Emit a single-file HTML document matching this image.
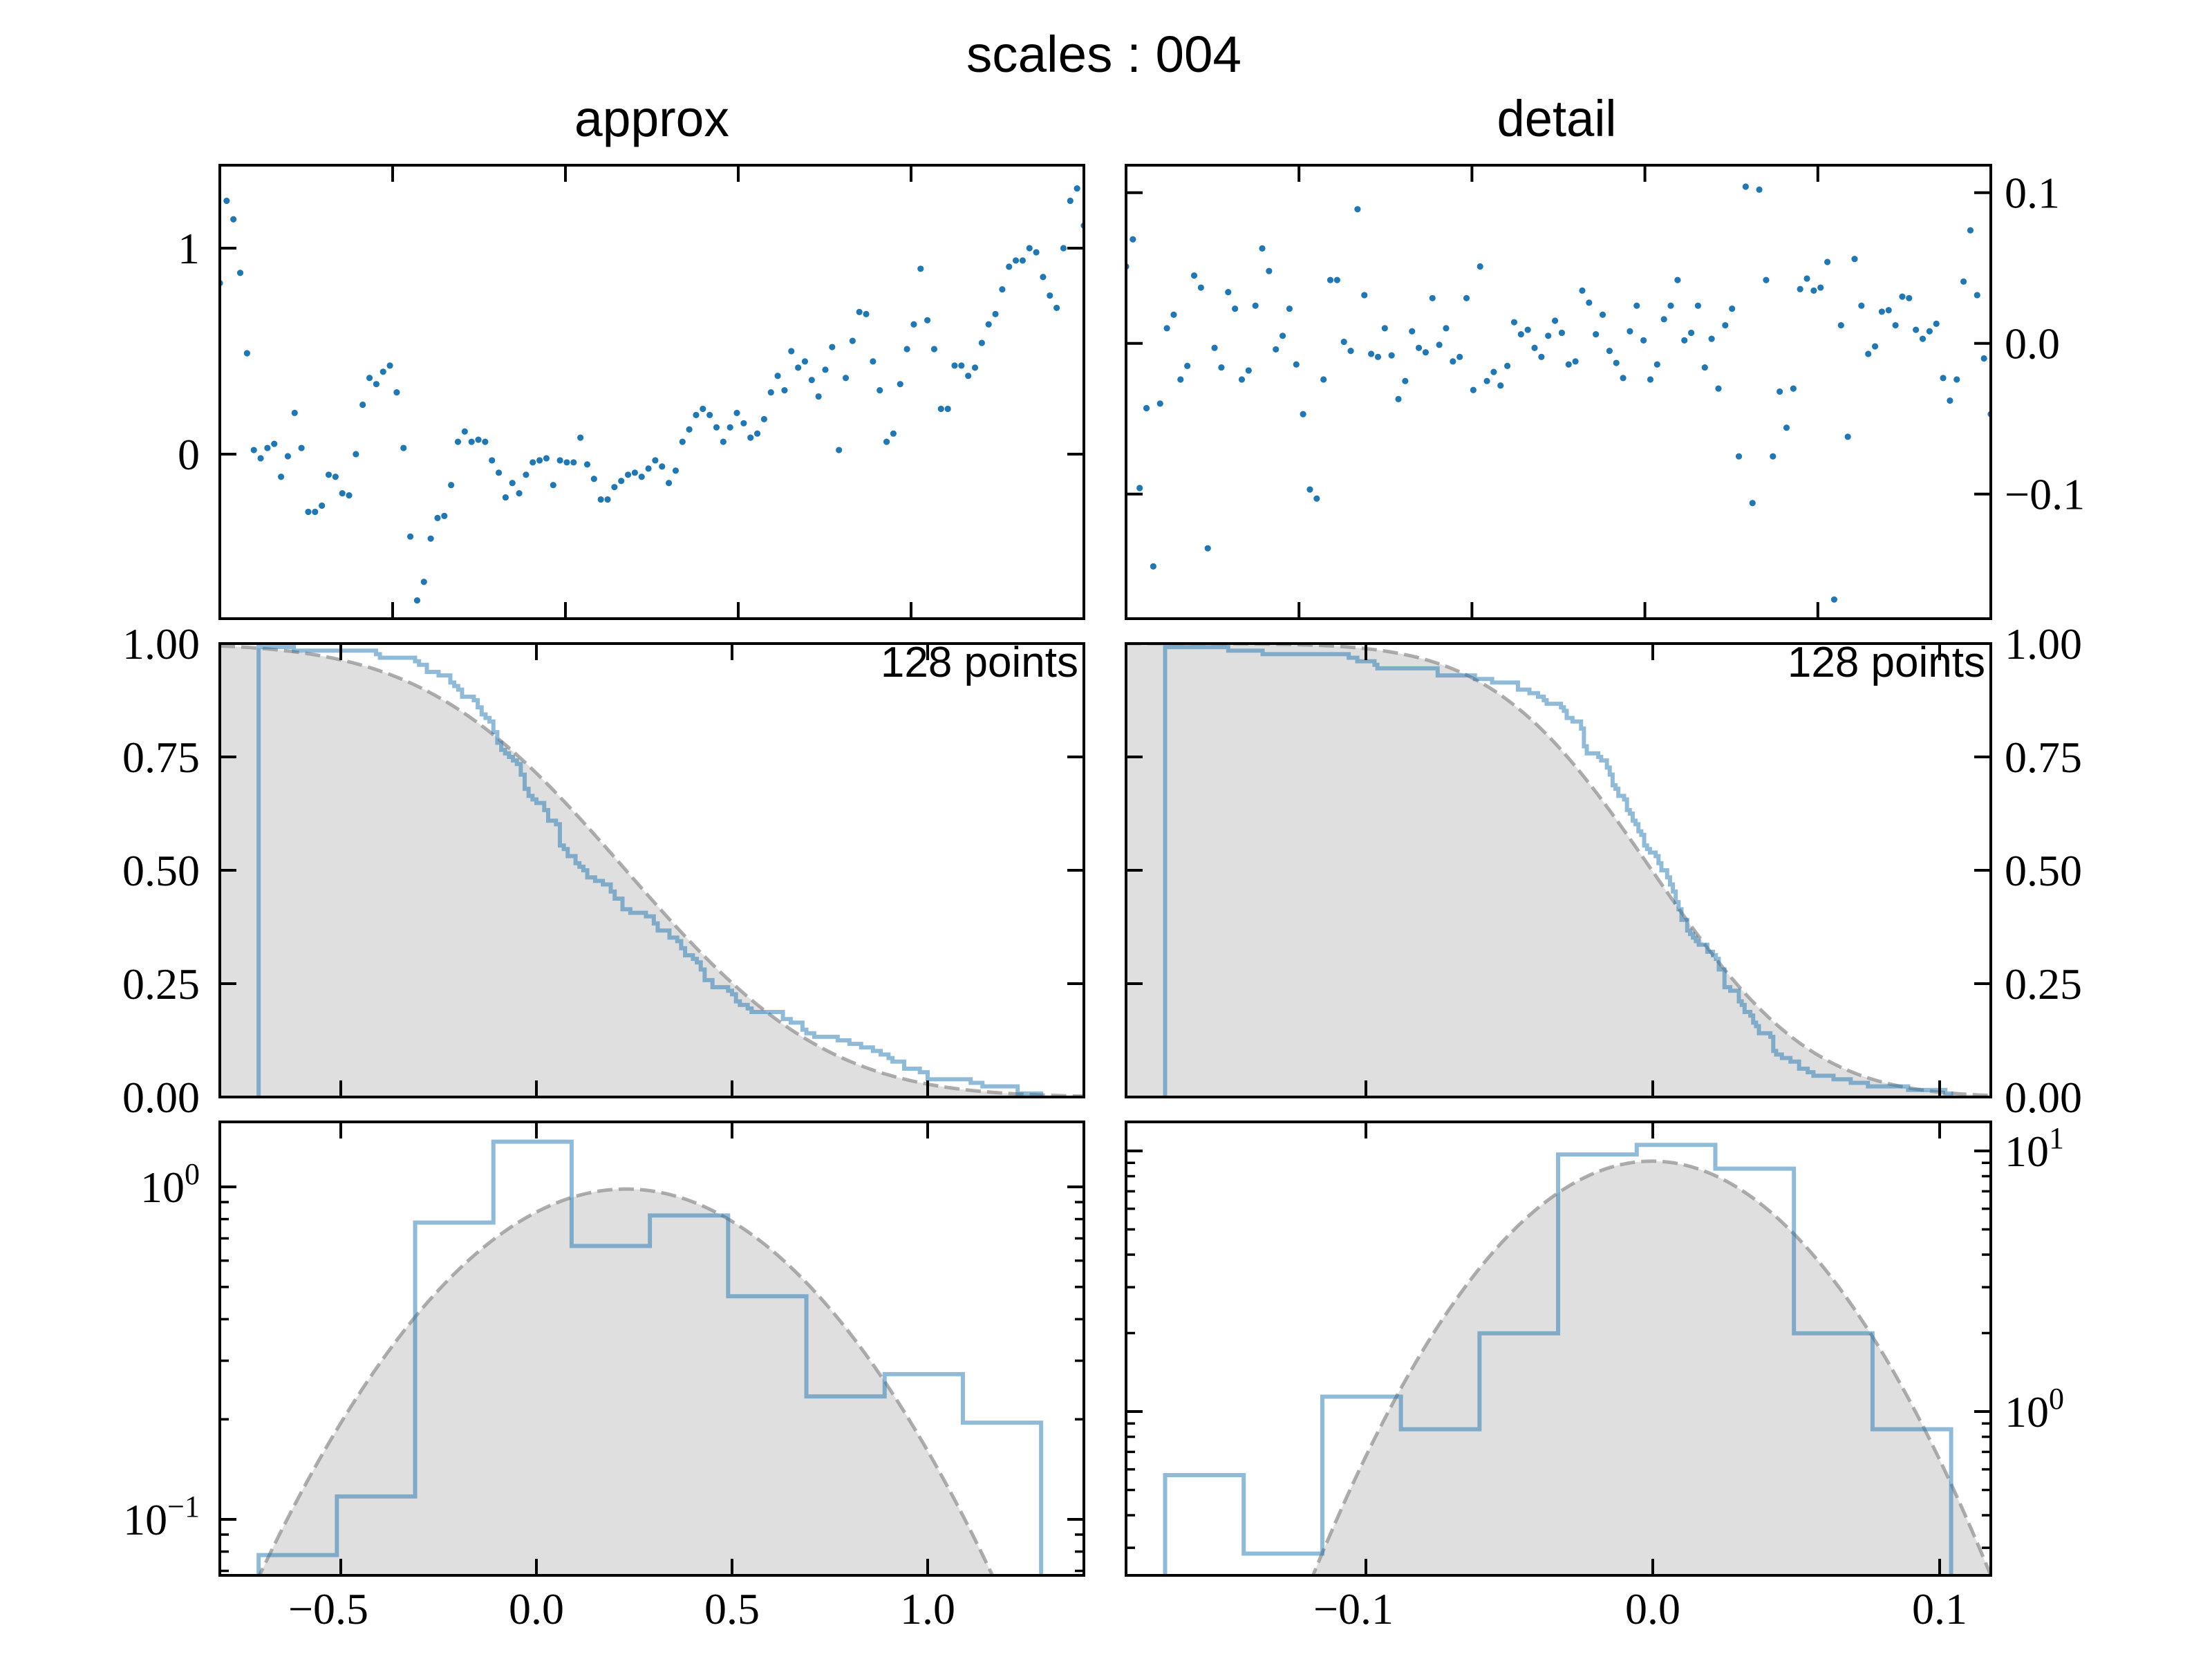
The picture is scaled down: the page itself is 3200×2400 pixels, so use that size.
<!DOCTYPE html>
<html><head><meta charset="utf-8"><style>
html,body{margin:0;padding:0;background:#fff;width:3200px;height:2400px;overflow:hidden}
svg{display:block;overflow:hidden}
.tk{font-family:"Liberation Serif",serif;font-size:64px;fill:#000}
.sans{font-family:"Liberation Sans",sans-serif;fill:#000}
</style></head><body>
<svg id="fig" xmlns="http://www.w3.org/2000/svg" width="3200" height="2400" viewBox="0 0 3200 2400">
<rect width="3200" height="2400" fill="#fff"/>
<text class="sans" x="1597" y="104" font-size="74" text-anchor="middle" textLength="398" lengthAdjust="spacingAndGlyphs">scales : 004</text>
<text class="sans" x="943" y="197" font-size="74" text-anchor="middle" textLength="224" lengthAdjust="spacingAndGlyphs">approx</text>
<text class="sans" x="2252" y="197" font-size="74" text-anchor="middle" textLength="173" lengthAdjust="spacingAndGlyphs">detail</text>
<g id="plots"></g>
</svg>
<script>
// ---------- data ----------
const approxValues = [0.83,1.23,1.14,0.88,0.49,0.02,-0.02,0.03,0.05,-0.11,
-0.01,0.20,0.03,-0.28,-0.28,-0.25,-0.10,-0.11,-0.19,-0.20,
0.00,0.24,0.37,0.34,0.40,0.43,0.30,0.03,-0.40,-0.71,
-0.62,-0.41,-0.31,-0.30,-0.15,0.06,0.11,0.06,0.07,0.06,
-0.03,-0.09,-0.21,-0.14,-0.19,-0.10,-0.04,-0.03,-0.02,-0.15,
-0.03,-0.04,-0.04,0.08,-0.05,-0.12,-0.22,-0.22,-0.16,-0.13,
-0.10,-0.09,-0.11,-0.07,-0.03,-0.06,-0.14,-0.08,0.06,0.12,
0.19,0.22,0.19,0.13,0.06,0.13,0.20,0.15,0.08,0.10,
0.17,0.30,0.38,0.31,0.50,0.42,0.45,0.36,0.28,0.41,
0.52,0.02,0.37,0.55,0.69,0.68,0.45,0.31,0.06,0.10,
0.34,0.51,0.63,0.90,0.65,0.51,0.22,0.22,0.43,0.43,
0.38,0.42,0.54,0.63,0.68,0.80,0.91,0.94,0.94,1.00,
0.98,0.86,0.77,0.71,1.00,1.23,1.29,1.11];
const detailValues = [0.051,0.069,-0.096,-0.043,-0.148,-0.040,0.010,0.019,-0.024,-0.015,
0.045,0.037,-0.136,-0.003,-0.016,0.034,0.023,-0.024,-0.018,0.025,
0.063,0.048,-0.004,0.005,0.023,-0.014,-0.047,-0.097,-0.103,-0.024,
0.042,0.042,0.001,-0.005,0.089,0.032,-0.007,-0.009,0.010,-0.008,
-0.037,-0.025,0.008,-0.003,-0.006,0.030,-0.001,0.010,-0.012,-0.009,
0.030,-0.031,0.051,-0.025,-0.019,-0.028,-0.015,0.014,0.006,0.009,
-0.003,-0.009,0.005,0.015,0.007,-0.014,-0.012,0.035,0.027,0.006,
0.019,-0.005,-0.013,-0.023,0.008,0.025,0.002,-0.024,-0.014,0.016,
0.025,0.042,0.002,0.007,0.025,-0.016,0.003,-0.030,0.012,0.023,
-0.075,0.104,-0.106,0.102,0.042,-0.075,-0.032,-0.056,-0.030,0.036,
0.043,0.035,0.037,0.054,-0.170,0.012,-0.062,0.056,0.025,-0.007,
-0.002,0.021,0.022,0.012,0.031,0.030,0.009,0.003,0.008,0.013,
-0.023,-0.038,-0.024,0.041,0.075,0.032,-0.010,-0.047];
const approxTopTicks = ["1","0"];
const approxTopTickValues = [1,0];
const detailTopTicks = ["0.1","0.0","\u22120.1"];
const detailTopTickValues = [0.1,0,-0.1];
const cdfTicks = ["0.00","0.25","0.50","0.75","1.00"];
const cdfTickValues = [0,0.25,0.5,0.75,1];
const approxXTicks = ["\u22120.5","0.0","0.5","1.0"];
const approxXTickValues = [-0.5,0,0.5,1.0];
const detailXTicks = ["\u22120.1","0.0","0.1"];
const detailXTickValues = [-0.1,0,0.1];
const approxLogMajor = [0,-1];
const detailLogMajor = [1,0];
const nBins = 10;

// ---------- layout ----------
const NS="http://www.w3.org/2000/svg";
const root=document.getElementById('plots');
const COLS=[{x0:318,x1:1568},{x0:1629,x1:2880}];
const ROWS=[{y0:239,y1:895},{y0:931,y1:1587},{y0:1623,y1:2279}];
const lx=v=>776+566*v, rx=v=>2391+4150*v;
const yTopL=v=>657-298*v, yTopR=v=>496.7-2180*v;
const yMid=v=>1587-656*v;
const yLogL=v=>1717-481*Math.log10(v), yLogR=v=>2042-377*Math.log10(v);
const FLOOR=2400;

function mk(tag,attrs,parent){const e=document.createElementNS(NS,tag);for(const k in attrs)e.setAttribute(k,attrs[k]);(parent||root).appendChild(e);return e;}

function erf(x){const s=Math.sign(x);x=Math.abs(x);const t=1/(1+0.3275911*x);
const y=1-(((((1.061405429*t-1.453152027)*t)+1.421413741)*t-0.284496736)*t+0.254829592)*t*Math.exp(-x*x);return s*y;}
function stats(a){const m=a.reduce((s,v)=>s+v,0)/a.length;const sd=Math.sqrt(a.reduce((s,v)=>s+(v-m)*(v-m),0)/a.length);return {m,sd};}

let clipId=0;
function panel(col,row,name){
  const c=COLS[col],r=ROWS[row];
  const g=mk('g',{});
  
  
  const id='clip'+(clipId++);
  const cp=mk('clipPath',{id:id},g);
  mk('rect',{x:c.x0,y:r.y0,width:c.x1-c.x0,height:r.y1-r.y0},cp);
  const inner=mk('g',{'clip-path':'url(#'+id+')'},g);
  return {g,inner,c,r};
}
function frame(p){
  const f=mk('rect',{x:p.c.x0,y:p.r.y0,width:p.c.x1-p.c.x0,height:p.r.y1-p.r.y0,fill:'none',stroke:'#000','stroke-width':4},p.g);
  
  
}
function xTicks(p,xs,len){
  xs.forEach(x=>{
    const t1=mk('line',{x1:x,x2:x,y1:p.r.y1,y2:p.r.y1-len,stroke:'#000','stroke-width':4},p.g);
    
    
    const t2=mk('line',{x1:x,x2:x,y1:p.r.y0,y2:p.r.y0+len,stroke:'#000','stroke-width':4},p.g);
    
    
  });
}
function yTicks(p,ys,len,w){
  ys.forEach(y=>{
    if(y<p.r.y0-1||y>p.r.y1+1)return;
    const t1=mk('line',{x1:p.c.x0,x2:p.c.x0+len,y1:y,y2:y,stroke:'#000','stroke-width':w||4},p.g);
    
    
    const t2=mk('line',{x1:p.c.x1,x2:p.c.x1-len,y1:y,y2:y,stroke:'#000','stroke-width':w||4},p.g);
    
    
  });
}
function yLabels(col,ys,labels){
  ys.forEach((y,i)=>{
    const t=mk('text',{class:'tk',x:col===0?289:2900,y:y+22,'text-anchor':col===0?'end':'start'});
    t.textContent=labels[i];
    
    
  });
}
function logLabel(col,y,exp){
  const t=mk('text',{class:'tk',x:col===0?289:2900,y:y+22,'text-anchor':col===0?'end':'start'});
  
  
  const a=mk('tspan',{},t);a.textContent='10';
  const b=mk('tspan',{dy:-26,'font-size':44},t);b.textContent=exp<0?'\u2212'+(-exp):String(exp);
}

function drawColumn(col,vals,X,yTop,topTickVals,topTickLabels,xTickVals,xTickLabels,yLog,logMajor){
  const st=stats(vals);
  const c=COLS[col];
  const N=vals.length;
  // --- top: scatter
  let p=panel(col,0,col?'detail-scatter-panel':'approx-scatter-panel');
  vals.forEach((v,i)=>{
    const d=mk('circle',{cx:c.x0+i/(N-1)*(c.x1-c.x0),cy:yTop(v),r:4.6,fill:'#1f77b4'},p.inner);
    
    
  });
  frame(p);
  xTicks(p,[0.2,0.4,0.6,0.8].map(f=>c.x0+f*(c.x1-c.x0)),24);
  const tys=topTickVals.map(yTop);
  yTicks(p,tys,24);
  yLabels(col,tys,topTickLabels);

  // --- middle: survival function
  p=panel(col,1,col?'detail-survival-panel':'approx-survival-panel');
  const xmin=X.inv(c.x0), xmax=X.inv(c.x1);
  let pts=[];
  for(let k=0;k<=300;k++){const x=xmin+(xmax-xmin)*k/300;const s=0.5*(1-erf((x-st.m)/(st.sd*Math.SQRT2)));pts.push([X(x),yMid(s)]);}
  let fa=mk('path',{d:'M'+c.x0+','+ROWS[1].y1+' L'+pts.map(q=>q.join(',')).join(' L')+' L'+c.x1+','+ROWS[1].y1+' Z',fill:'#dfdfdf'},p.inner);
  
  
  let dl=mk('path',{d:'M'+pts.map(q=>q.join(',')).join(' L'),fill:'none',stroke:'#999','stroke-opacity':0.8,'stroke-width':5,'stroke-dasharray':'22 9'},p.inner);
  
  
  const sorted=[...vals].sort((a,b)=>a-b);
  let d='M'+X(sorted[0])+','+yMid(0)+' L'+X(sorted[0])+','+yMid(1);
  for(let i=0;i<N;i++){
    const yv=1-(i+1)/N;
    const xn=i<N-1?sorted[i+1]:sorted[i];
    d+=' L'+X(sorted[i])+','+yMid(yv)+' L'+X(xn)+','+yMid(yv);
  }
  let sl=mk('path',{d:d,fill:'none',stroke:'#1f77b4','stroke-opacity':0.5,'stroke-width':6},p.inner);
  
  
  const txt=mk('text',{class:'sans',x:c.x1-8,y:979,'font-size':62,'text-anchor':'end'},p.g);
  txt.textContent='128 points';
  
  
  frame(p);
  xTicks(p,xTickVals.map(X),24);
  const mys=cdfTickValues.map(yMid);
  yTicks(p,mys,24);
  yLabels(col,mys,cdfTicks);

  // --- bottom: histogram (log)
  p=panel(col,2,col?'detail-histogram-panel':'approx-histogram-panel');
  const pts2=[];
  for(let k=0;k<=300;k++){const x=xmin+(xmax-xmin)*k/300;const dn=Math.exp(-0.5*((x-st.m)/st.sd)**2)/(st.sd*Math.sqrt(2*Math.PI));pts2.push([X(x),Math.min(yLog(Math.max(dn,1e-9)),FLOOR)]);}
  fa=mk('path',{d:'M'+c.x0+','+FLOOR+' L'+pts2.map(q=>q.join(',')).join(' L')+' L'+c.x1+','+FLOOR+' Z',fill:'#dfdfdf'},p.inner);
  
  
  dl=mk('path',{d:'M'+pts2.map(q=>q.join(',')).join(' L'),fill:'none',stroke:'#999','stroke-opacity':0.8,'stroke-width':5,'stroke-dasharray':'22 9'},p.inner);
  
  
  const lo=sorted[0],hi=sorted[N-1],bw=(hi-lo)/nBins;
  const counts=new Array(nBins).fill(0);
  vals.forEach(v=>{let b=Math.floor((v-lo)/bw);if(b>=nBins)b=nBins-1;if(b<0)b=0;counts[b]++;});
  let hd='M'+X(lo)+','+FLOOR;
  counts.forEach((n,b)=>{const dn=n/(N*bw);const y=n>0?Math.min(yLog(dn),FLOOR):FLOOR;hd+=' L'+X(lo+b*bw)+','+y+' L'+X(lo+(b+1)*bw)+','+y;});
  hd+=' L'+X(hi)+','+FLOOR;
  const hs=mk('path',{d:hd,fill:'none',stroke:'#1f77b4','stroke-opacity':0.5,'stroke-width':6},p.inner);
  
  
  frame(p);
  xTicks(p,xTickVals.map(X),24);
  const majors=logMajor.map(e=>yLog(Math.pow(10,e)));
  yTicks(p,majors,24);
  const minors=[];
  for(let e=-3;e<=2;e++)for(let m=2;m<=9;m++)minors.push(yLog(m*Math.pow(10,e)));
  yTicks(p,minors,13,3.5);
  logMajor.forEach((e,i)=>logLabel(col,majors[i],e));
  xTickVals.forEach((v,i)=>{
    const t=mk('text',{class:'tk',x:X(v)-(xTickLabels[i].startsWith('\u2212')?18:0),y:2349,'text-anchor':'middle'});
    t.textContent=xTickLabels[i];
    
    
  });
}
lx.inv=px=>(px-776)/566;
rx.inv=px=>(px-2391)/4150;
drawColumn(0,approxValues,lx,yTopL,approxTopTickValues,approxTopTicks,approxXTickValues,approxXTicks,yLogL,approxLogMajor);
drawColumn(1,detailValues,rx,yTopR,detailTopTickValues,detailTopTicks,detailXTickValues,detailXTicks,yLogR,detailLogMajor);
</script>
</body></html>
